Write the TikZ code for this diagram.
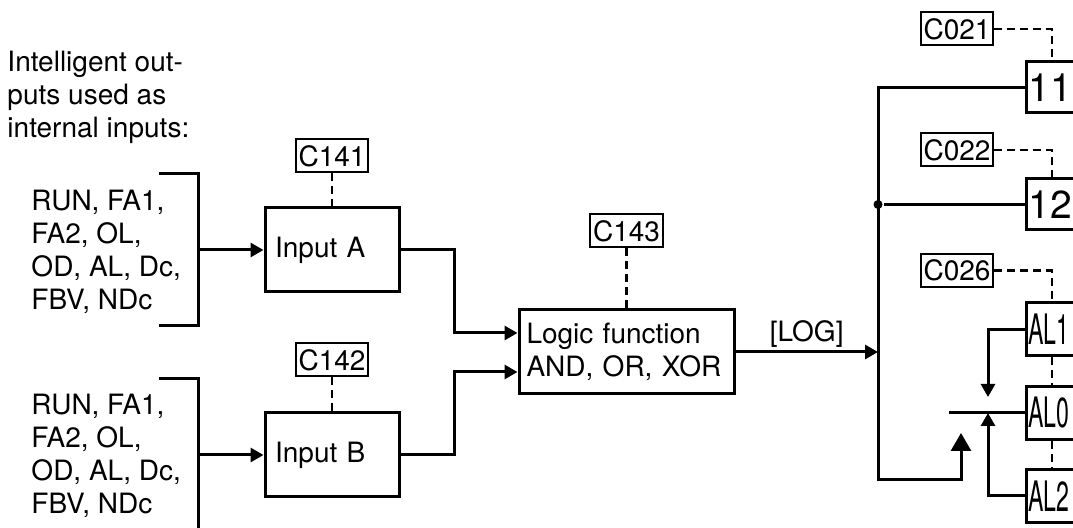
\documentclass[tikz,border=0pt]{standalone}
\usepackage{fontspec}
\setmainfont{TeX Gyre Heros}
\newfontfamily\condfont[FakeStretch=0.55]{TeX Gyre Heros}
\usetikzlibrary{arrows.meta,positioning,calc}

\begin{document}
\begin{tikzpicture}[
    x=0.5pt, y=-0.5pt,
    line width=1.5pt,
    >={Triangle[length=6.5pt,width=7pt]},
    font=\fontsize{14}{16.5}\selectfont,
    blk/.style={rectangle, draw, minimum height=42pt, inner xsep=5pt, text width=57pt, align=left},
    lgc/.style={rectangle, draw, minimum height=42pt, inner xsep=3.75pt, text width=100pt, align=left},
    prm/.style={rectangle, draw, line width=1pt, inner xsep=1.5pt, inner ysep=0pt, minimum height=16.5pt},
    obox/.style={rectangle, draw, anchor=west, inner xsep=1pt, inner ysep=0pt, text width=40pt, align=left, minimum height=25.5pt, font=\fontsize{19.5}{20}\selectfont},
    alm/.style={obox, minimum height=26.5pt, font=\condfont\fontsize{21}{21}\selectfont},
    lst/.style={anchor=west, align=left, inner sep=0pt},
    dsh/.style={line width=1.2pt, dash pattern=on 4pt off 2.5pt},
    big/.style={-{Triangle[length=9pt,width=10pt]}},
  ]

  \clip (0,0) rectangle (1073,528);

  %% ===== INPUTS (left) =====
  \node[lst] (head) at (6,97) {Intelligent out-\\puts used as\\internal inputs:};

  \node[lst] (lstA) at (30,252) {RUN, FA1,\\FA2, OL,\\OD, AL, Dc,\\FBV, NDc};
  \node[lst] (lstB) at (30,456) {RUN, FA1,\\FA2, OL,\\OD, AL, Dc,\\FBV, NDc};

  %% brackets round the lists
  \coordinate (brA) at (198,250);
  \coordinate (brB) at (198,455);
  \draw (159,174) -| (brA) |- (159,326);
  \draw (159,379) -| (brB) -- (198,540);

  %% Input A / Input B
  \node[blk] (inA) at (332,250) {Input A};
  \node[blk] (inB) at (332,455) {Input B};
  \node[prm, above=16.5pt of inA] (c141) {C141};
  \node[prm, above=17pt of inB]   (c142) {C142};

  \draw[->] (brA) -- (inA.west);
  \draw[->] (brB) -- (inB.west);
  \draw[dsh] (c141) -- (inA);
  \draw[dsh] (c142) -- (inB);

  %% ===== LOGIC FUNCTION =====
  \node[lgc] (logic) at (626.5,352) {Logic function\\AND, OR, XOR};
  \node[prm, above=30pt of logic] (c143) {C143};
  \draw[dsh] (c143) -- (logic);

  \coordinate (mrg) at (454,352);
  \draw[->] (inA.east) -- (inA.east -| mrg) |- ([yshift=9.5pt]logic.west);
  \draw[->] (inB.east) -- (inB.east -| mrg) |- ([yshift=-10pt]logic.west);

  %% ===== OUTPUTS (right) =====
  \coordinate (bus) at (878,352);
  \coordinate (dx)  at (1052,0);

  \node[obox] (o11) at (1025,87.5)  {11};
  \node[obox] (o12) at (1025,204.5) {12};
  \node[alm]  (al1) at (1025,329.5) {AL1};
  \node[alm]  (al0) at (1025,413)   {AL0};
  \node[alm]  (al2) at (1025,496)   {AL2};

  \node[prm] (c021) at (957,29)    {C021};
  \node[prm] (c022) at (957,150)   {C022};
  \node[prm] (c026) at (957,270.5) {C026};

  %% [LOG] onto the bus
  \draw[->] (logic.east) -- (bus) node[midway, above=-2pt] {[LOG]};

  \coordinate (busB) at (878,480);
  \coordinate (selB) at (961,433);
  \draw[big] (o11.west) -| (busB) -| (selB);
  \node[circle, fill, inner sep=0pt, minimum size=4.5pt] (jn) at (bus |- o12.west) {};
  \draw (jn) -- (o12.west);

  %% relay selector AL0 / AL1 / AL2
  \coordinate (sel)  at (988,413);
  \coordinate (selL) at (949,413);
  \draw (selL) -- (al0.west);
  \draw[->] (al1.west) -| ([yshift=8pt]sel);
  \draw[->] (al2.west) -| (sel);

  %% function codes (dashed)
  \draw[dsh] (c021.east) -| (dx |- o11.north);
  \draw[dsh] (c022.east) -| (dx |- o12.north);
  \draw[dsh] (c026.east) -| (dx |- al1.north);
  \draw[dsh] (dx |- al1.south) -- (dx |- al0.north);
  \draw[dsh] (dx |- al0.south) -- (dx |- al2.north);

\end{tikzpicture}
\end{document}
